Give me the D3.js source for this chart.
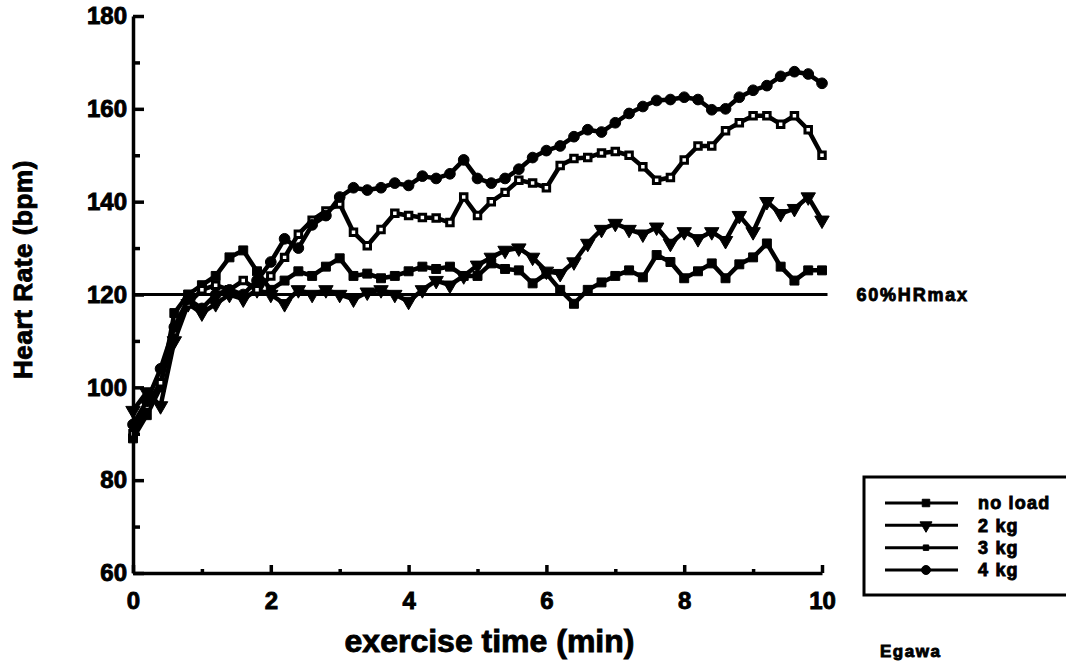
<!DOCTYPE html>
<html>
<head>
<meta charset="utf-8">
<style>
  body { margin: 0; background: #fff; }
  svg { display: block; background: #fff; }
  text { font-family: "Liberation Sans", Arial, sans-serif; font-weight: bold; fill: #000; stroke: #000; stroke-width: 0.9px; }
  .line { fill: none; stroke: #000; stroke-width: 4.5; stroke-linejoin: round; }
  .axis path, .axis line { stroke: #000; stroke-width: 3.5; }
  .axis text { font-size: 24px; }
</style>
</head>
<body>
<svg id="chart" width="1066" height="662"></svg>
<script src="https://cdn.jsdelivr.net/npm/d3@7"></script>
<script>
// time (min), one reading every 0.2 min
const times = [0, 0.2, 0.4, 0.6, 0.8, 1, 1.2, 1.4, 1.6, 1.8, 2, 2.2, 2.4, 2.6, 2.8, 3, 3.2, 3.4, 3.6, 3.8,
  4, 4.2, 4.4, 4.6, 4.8, 5, 5.2, 5.4, 5.6, 5.8, 6, 6.2, 6.4, 6.6, 6.8, 7, 7.2, 7.4, 7.6, 7.8,
  8, 8.2, 8.4, 8.6, 8.8, 9, 9.2, 9.4, 9.6, 9.8, 10]

// heart rate (bpm)
const noLoad = [89, 94, 100, 116, 120, 122, 124, 128, 129.5, 125, 121, 123, 125, 124, 126, 127.8, 124, 124.5, 123.5, 124,
  125, 126, 125.5, 126, 124, 124, 126.7, 125.5, 125.2, 122.4, 124.5, 121, 118, 121, 122.6, 124, 125.2, 123.7, 128.5, 127,
  123.5, 125, 126.7, 123.5, 126.5, 128, 131, 126, 123, 125.2, 125.2]
const kg2 = [95, 99, 96, 110, 118, 116, 118, 120, 119, 121, 120, 118, 121, 120, 121, 120, 119, 120.5, 121, 120,
  118.5, 121, 123, 122, 124, 126.3, 128, 129.5, 130, 128, 125, 124.5, 127, 131, 134, 135.3, 134, 133, 134.5, 131,
  133.5, 132, 133.5, 131.6, 137, 133.5, 140, 137.4, 138.5, 141, 136]
const kg3 = [90, 96, 101, 112, 118, 121, 122, 121, 123, 121, 124, 128, 133, 136, 138, 139.5, 133.4, 130.5, 134, 137.5,
  137, 136.6, 136.5, 135.5, 141, 137, 140, 142, 144.6, 144, 143, 147.8, 149.3, 149.5, 150.5, 150.8, 150, 147.5, 144.6, 145.2,
  149, 152, 152, 155.3, 157, 158.5, 158.5, 156.7, 158.5, 155.5, 150]
const kg4 = [92, 97, 104, 113, 119, 117, 120, 121, 120, 123, 127, 132, 130, 135, 137, 141, 143, 142.5, 143, 144,
  143.5, 145.5, 145, 146, 149, 145, 144, 145, 147, 149.5, 151, 152, 154, 155.5, 155, 157, 159, 160.5, 161.8, 162,
  162.5, 162, 159.8, 160, 162.5, 164, 165, 167, 168, 167.5, 165.5]

const seriesNames = ["no load", "2 kg", "3 kg", "4 kg"]
const seriesValues = [noLoad, kg2, kg3, kg4]

const yTicks = [60, 80, 100, 120, 140, 160, 180]
const yMinor = [70, 90, 110, 130, 150, 170]
const xTicks = [0, 2, 4, 6, 8, 10]
const xMinor = [1, 3, 5, 7, 9]
const refLevel = 120
const refLabel = "60%HRmax"

let svg = d3.select("#chart")

let xScale = d3.scaleLinear().domain([0, 10]).range([133, 822])
let yScale = d3.scaleLinear().domain([60, 180]).range([573, 16])

// marker per series
const symbols = [
  { type: d3.symbolSquare, size: 80, fill: "#000", rot: 0 },
  { type: d3.symbolTriangle, size: 90, fill: "#000", rot: 180 },
  { type: d3.symbolSquare, size: 42, fill: "#fff", rot: 0 },
  { type: d3.symbolCircle, size: 90, fill: "#000", rot: 0 }
]

// 60% HRmax reference line
svg.append("line")
  .attr("x1", xScale(0)).attr("x2", xScale(10.08))
  .attr("y1", yScale(refLevel)).attr("y2", yScale(refLevel))
  .attr("stroke", "#000").attr("stroke-width", 2.8)

svg.append("text")
  .attr("x", xScale(10.5)).attr("y", yScale(refLevel))
  .attr("dy", "0.35em")
  .attr("font-size", 18).attr("letter-spacing", 1.8)
  .text(refLabel)

// lines
let valueLine = d3.line()
  .x((d, i) => xScale(times[i]))
  .y(d => yScale(d))

seriesValues.forEach((vals, s) => {
  svg.append("path")
    .datum(vals)
    .attr("class", "line")
    .attr("d", valueLine)

  let sym = symbols[s]
  svg.append("g").selectAll("path")
    .data(vals)
    .join("path")
    .attr("d", d3.symbol().type(sym.type).size(sym.size))
    .attr("transform", (d, i) => "translate(" + xScale(times[i]) + "," + yScale(d) + ") rotate(" + sym.rot + ")")
    .attr("fill", sym.fill)
    .attr("stroke", "#000")
    .attr("stroke-width", sym.fill == "#fff" ? 3 : 1)
})

// axes
let yAxis = svg.append("g")
  .attr("class", "axis")
  .attr("transform", "translate(" + xScale(0) + ",0)")
  .call(d3.axisLeft(yScale).tickValues(yTicks).tickSizeInner(-11).tickSizeOuter(0).tickPadding(6))
yAxis.select(".domain").attr("stroke-width", 3.5)

svg.append("g")
  .attr("class", "axis")
  .attr("transform", "translate(" + xScale(0) + ",0)")
  .call(d3.axisLeft(yScale).tickValues(yMinor).tickSizeInner(-7).tickSizeOuter(0).tickFormat(""))
  .call(g => g.select(".domain").remove())
  .selectAll("line").attr("stroke-width", 2.5)

svg.append("g")
  .attr("class", "axis")
  .attr("transform", "translate(0," + yScale(60) + ")")
  .call(d3.axisBottom(xScale).tickValues(xTicks).tickSizeInner(-8).tickSizeOuter(0).tickPadding(19))
  .selectAll("line").attr("stroke-width", 2.5)

svg.append("g")
  .attr("class", "axis")
  .attr("transform", "translate(0," + yScale(60) + ")")
  .call(d3.axisBottom(xScale).tickValues(xMinor).tickSizeInner(-4).tickSizeOuter(0).tickFormat(""))
  .call(g => g.select(".domain").remove())
  .selectAll("line").attr("stroke-width", 2.5)

// titles
svg.append("text")
  .attr("x", (xScale(0) + xScale(10)) / 2 + 12).attr("y", 652)
  .attr("text-anchor", "middle")
  .attr("font-size", 32)
  .text("exercise time (min)")

svg.append("text")
  .attr("transform", "translate(32," + (yScale(120) - 25) + ") rotate(-90)")
  .attr("text-anchor", "middle")
  .attr("font-size", 26).attr("letter-spacing", 0.6)
  .text("Heart Rate (bpm)")

svg.append("text")
  .attr("x", 880).attr("y", 657)
  .attr("font-size", 17).attr("letter-spacing", 1.5)
  .text("Egawa")

// legend
let legendY = d3.scalePoint().domain(seriesNames).range([503, 570])

svg.append("rect")
  .attr("x", 864).attr("y", 477).attr("width", 215).attr("height", 118)
  .attr("fill", "none").attr("stroke", "#000").attr("stroke-width", 3)

let legend = svg.append("g").selectAll("g")
  .data(seriesNames)
  .join("g")
  .attr("transform", d => "translate(0," + legendY(d) + ")")

legend.append("line")
  .attr("x1", 885).attr("x2", 958)
  .attr("stroke", "#000").attr("stroke-width", 3)

legend.append("path")
  .attr("d", (d, i) => d3.symbol().type(symbols[i].type).size(symbols[i].size * 0.7)())
  .attr("transform", (d, i) => "translate(926,0) rotate(" + symbols[i].rot + ")")
  .attr("fill", "#000")
  .attr("stroke", "#000")
  .attr("stroke-width", 1)

legend.append("text")
  .attr("x", 978).attr("dy", "0.35em")
  .attr("font-size", 18).attr("letter-spacing", 1.2)
  .text(d => d)
</script>
</body>
</html>
